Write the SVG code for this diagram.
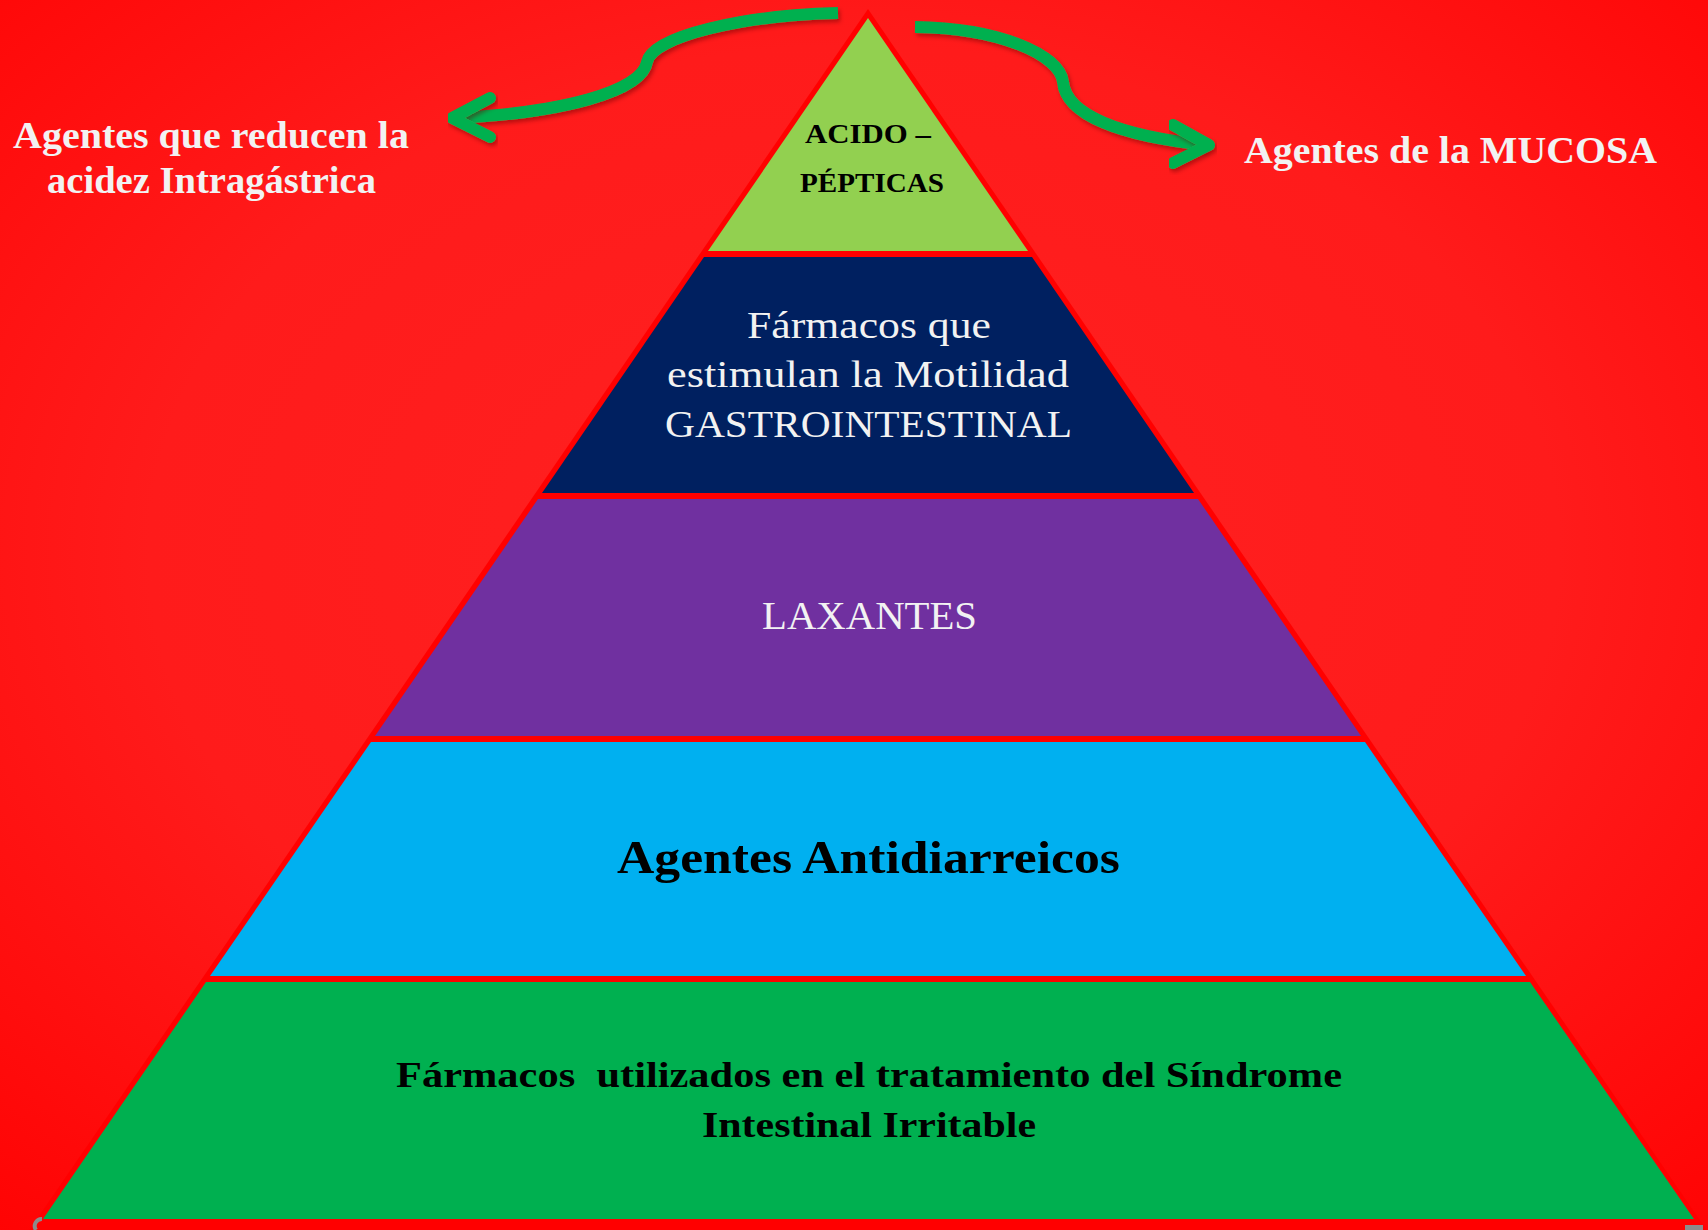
<svg xmlns="http://www.w3.org/2000/svg" width="1708" height="1230" viewBox="0 0 1708 1230">
<defs>
<radialGradient id="bg" cx="50%" cy="45%" r="75%">
<stop offset="0" stop-color="#FF2121"/>
<stop offset="0.55" stop-color="#FF1B1B"/>
<stop offset="1" stop-color="#FF0303"/>
</radialGradient>
<filter id="sh" x="-10%" y="-20%" width="130%" height="150%">
<feDropShadow dx="2" dy="3" stdDeviation="2" flood-color="#600000" flood-opacity="0.45"/>
</filter>
<style>
.w{fill:#F2F2F2;font-family:"Liberation Serif","Times New Roman",serif;text-anchor:middle}
.b{fill:#000000;font-family:"Liberation Serif","Times New Roman",serif;text-anchor:middle;font-weight:bold}
.bold{font-weight:bold}
.arr{fill:none;stroke:#00B050;stroke-width:12;filter:url(#sh)}
.head{fill:none;stroke:#00B050;stroke-width:12;stroke-linecap:round;stroke-linejoin:round;filter:url(#sh)}
</style>
</defs>
<rect x="0" y="0" width="1708" height="1230" fill="url(#bg)"/>
<polygon points="868,9 28,1232 1708,1232" fill="#FF0000"/>

<g id="layer-acido">
<polygon points="868,18 1028,251 708,251" fill="#92D050"/>
<text class="b" x="868" y="143" font-size="28" textLength="126" lengthAdjust="spacingAndGlyphs">ACIDO –</text>
<text class="b" x="872" y="192" font-size="28" textLength="144" lengthAdjust="spacingAndGlyphs">PÉPTICAS</text>
</g>

<g id="layer-motilidad">
<polygon points="704,257 1032,257 1194,493 542,493" fill="#002060"/>
<text class="w" x="869" y="338" font-size="38" textLength="244" lengthAdjust="spacingAndGlyphs">Fármacos que</text>
<text class="w" x="868" y="387" font-size="38" textLength="402" lengthAdjust="spacingAndGlyphs">estimulan la Motilidad</text>
<text class="w" x="868.5" y="437" font-size="38" textLength="407" lengthAdjust="spacingAndGlyphs">GASTROINTESTINAL</text>
</g>

<g id="layer-laxantes">
<polygon points="538,499 1198,499 1361,736 375,736" fill="#7030A0"/>
<text class="w" x="869.5" y="629" font-size="39" textLength="215" lengthAdjust="spacingAndGlyphs">LAXANTES</text>
</g>

<g id="layer-antidiarreicos">
<polygon points="371,742 1365,742 1526,976 210,976" fill="#00B0F0"/>
<text class="b" x="868.5" y="873" font-size="47" textLength="503" lengthAdjust="spacingAndGlyphs">Agentes Antidiarreicos</text>
</g>

<g id="layer-sii">
<polygon points="206,982 1530,982 1694,1219 43,1219" fill="#00B050"/>
<text class="b" x="869" y="1087" font-size="36" textLength="946" lengthAdjust="spacingAndGlyphs" style="white-space:pre">Fármacos  utilizados en el tratamiento del Síndrome</text>
<text class="b" x="869" y="1137" font-size="36" textLength="334" lengthAdjust="spacingAndGlyphs">Intestinal Irritable</text>
</g>

<g id="label-acidez">
<text class="w bold" x="211" y="148" font-size="37" textLength="396" lengthAdjust="spacingAndGlyphs">Agentes que reducen la</text>
<text class="w bold" x="211.5" y="193" font-size="37" textLength="329" lengthAdjust="spacingAndGlyphs">acidez Intragástrica</text>
</g>

<g id="label-mucosa">
<text class="w bold" x="1450.5" y="163" font-size="38" textLength="413" lengthAdjust="spacingAndGlyphs">Agentes de la MUCOSA</text>
</g>

<g id="connectors">
<path class="arr" d="M838,13 C745,15 652,36 647,62 C642,92 560,113 455,118"/>
<path class="head" d="M490,98 L452,118 L490,137"/>
<path class="arr" d="M915,27 C1000,28 1060,55 1063,82 C1066,115 1120,136 1206,145"/>
<path class="head" d="M1173,125 L1209,145 L1173,163"/>
</g>

<path d="M42,1219 A7,7 0 0 0 36,1230" fill="none" stroke="#8C8C8C" stroke-width="4"/>
<rect x="1685" y="1225" width="18" height="5" fill="#8C8C8C"/>
</svg>
